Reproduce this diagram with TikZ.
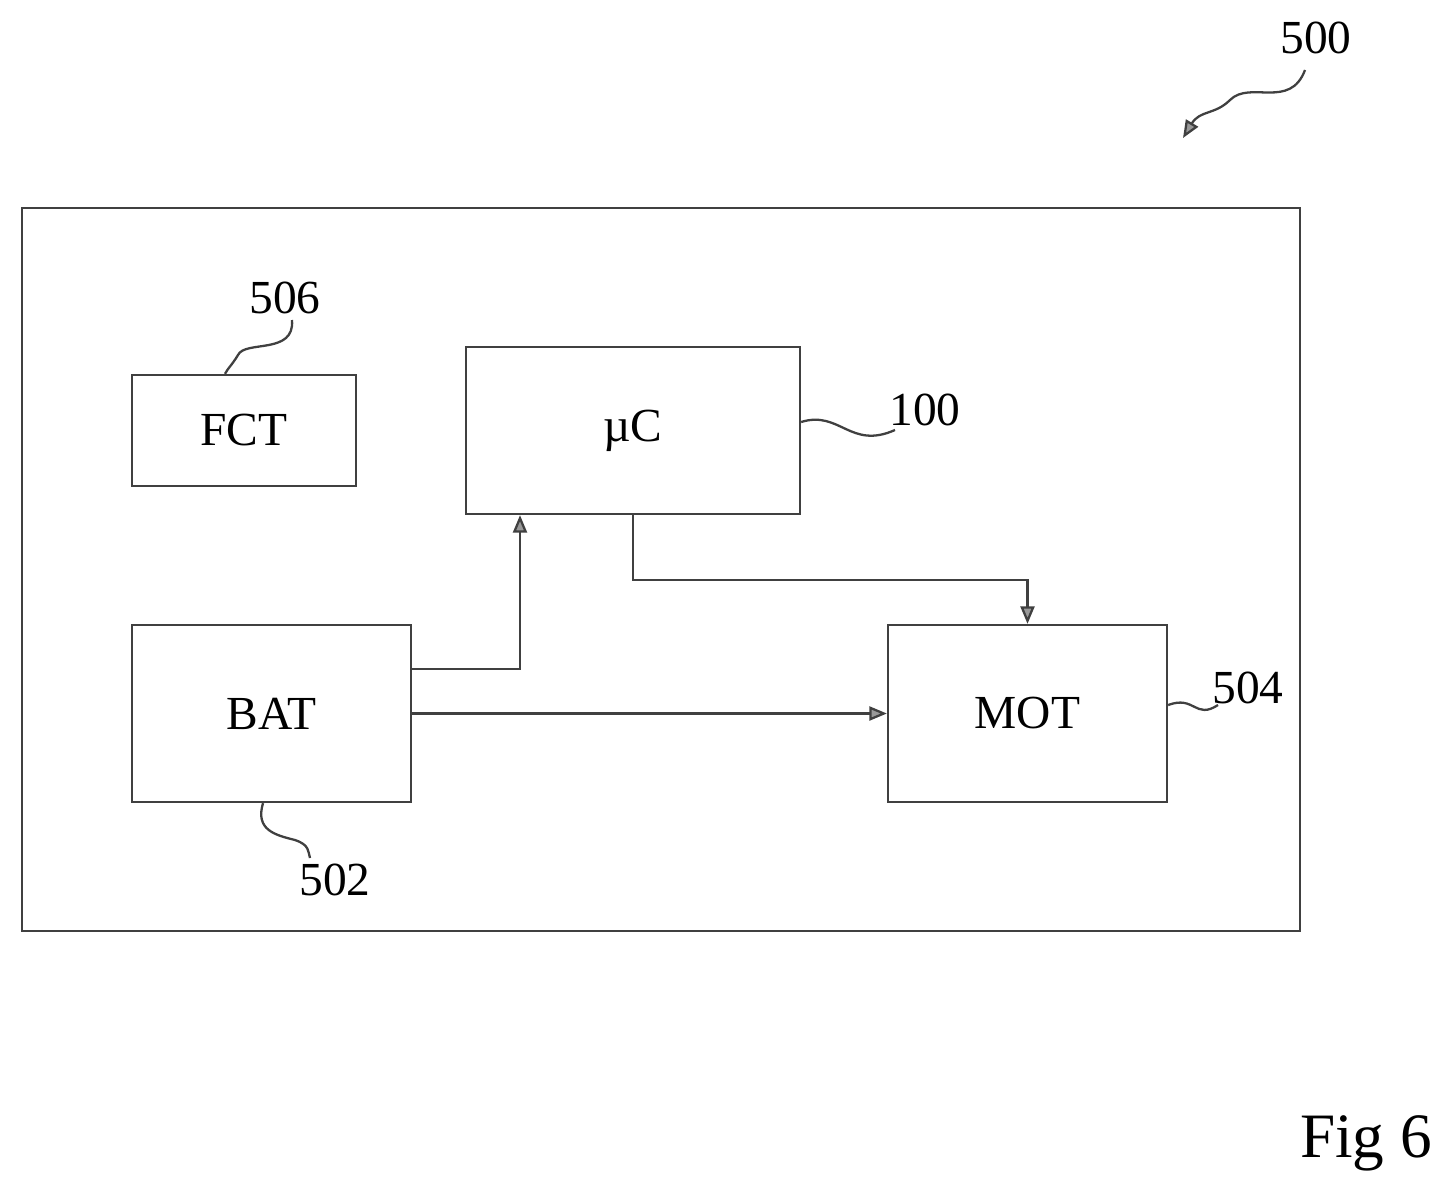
\documentclass[tikz,border=0pt]{standalone}
\usepackage{fontspec}
\setmainfont{Liberation Serif}
\usetikzlibrary{arrows.meta}
\begin{document}
\begin{tikzpicture}[x=0.02cm,y=-0.02cm,
  ln/.style={draw=black!75,line width=1.3pt},
  box/.style={ln,fill=white},
  arr/.style={ln,-{Triangle[length=10pt,width=8pt,fill=black!40]}},
  lbl/.style={font=\fontsize{27}{30}\selectfont,inner sep=0pt}]
\useasboundingbox (0,0) rectangle (1450,1197);
\draw[box] (22,208) rectangle (1300,931);
\node[box,minimum width=224*0.02cm,minimum height=111*0.02cm,lbl] (fct) at (244,430.5) {FCT};
\node[box,minimum width=334*0.02cm,minimum height=167*0.02cm,lbl] (uc) at (633,430.5) {µC};
\node[box,minimum width=279*0.02cm,minimum height=177*0.02cm,lbl] (bat) at (271.5,713.5) {BAT};
\node[box,minimum width=279*0.02cm,minimum height=177*0.02cm,lbl] (mot) at (1027.5,713.5) {MOT};
\coordinate (b1) at (411,669);
\draw[arr] (b1) -| (uc.south -| 520,0);
\draw[arr] (uc.south) -- (633,580) -| (mot.north);
\draw[arr] (bat.east) -- (mot.west);
\node[lbl] (l500) at (1316,38) {500};
\coordinate (t500) at (1183,138);
\draw[arr] (1305,70) .. controls (1290,110) and (1250,80) .. (1230,100) .. controls (1215,115) and (1200,110) .. (t500);
\node[lbl] (l506) at (285,298) {506};
\draw[ln] (292,320) .. controls (295,355) and (245,340) .. (238,355) .. controls (232,365) and (228,368) .. (fct.north -| 225,0);
\node[lbl] (l100) at (925,410) {100};
\draw[ln] (uc.east |- 0,422) .. controls (840,410) and (850,450) .. (895,430);
\node[lbl] (l504) at (1248,688) {504};
\draw[ln] (mot.east |- 0,705) .. controls (1195,695) and (1195,720) .. (1218,705);
\node[lbl] (l502) at (335,880) {502};
\draw[ln] (bat.south -| 263,0) .. controls (255,830) and (275,835) .. (295,840) .. controls (310,845) and (308,852) .. (310,858);
\node[font=\fontsize{36}{40}\selectfont,inner sep=0pt] (fig) at (1366,1143) {Fig 6};
\end{tikzpicture}
\end{document}
